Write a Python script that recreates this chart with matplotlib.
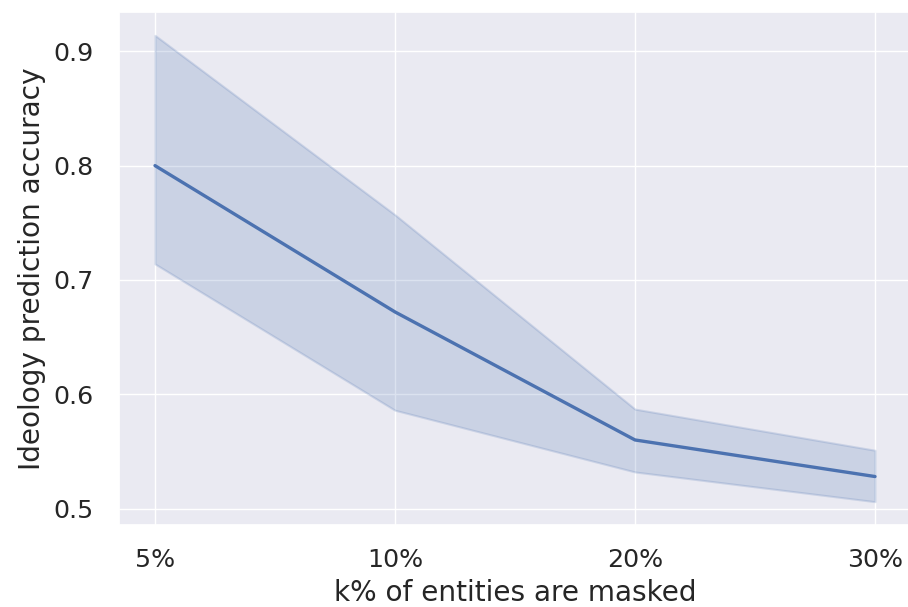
import matplotlib
matplotlib.use("Agg")
import matplotlib.pyplot as plt
import seaborn as sns

# values
mask_levels = ["5%", "10%", "20%", "30%"]
acc_mean = [0.800, 0.672, 0.560, 0.528]
acc_upper = [0.914, 0.757, 0.587, 0.551]
acc_lower = [0.714, 0.586, 0.532, 0.506]

sns.set_theme(style="darkgrid", font_scale=1.65)
plt.rcParams["font.family"] = ["DejaVu Sans"]

fig = plt.figure(figsize=(9.08, 6.07), dpi=100)
ax = fig.add_axes([119 / 908, 82 / 607, 792 / 908, 513 / 607])

x = list(range(len(mask_levels)))
color = sns.color_palette()[0]
ax.plot(x, acc_mean, color=color, lw=2.4)
ax.fill_between(x, acc_lower, acc_upper, color=color, alpha=0.2, lw=1.5)

ax.set_xticks(x)
ax.set_xticklabels(mask_levels)
ax.set_yticks([0.5, 0.6, 0.7, 0.8, 0.9])
ax.tick_params(axis="x", pad=plt.rcParams["xtick.major.pad"] + 7)
ax.tick_params(axis="y", pad=plt.rcParams["ytick.major.pad"] + 9)
ax.set_xlabel("k% of entities are masked", fontsize=20.2,
              labelpad=plt.rcParams["axes.labelpad"] + 1)
ax.set_ylabel("Ideology prediction accuracy", fontsize=20.2,
              labelpad=plt.rcParams["axes.labelpad"] + 1)

fig.savefig("out.png", dpi=100)
